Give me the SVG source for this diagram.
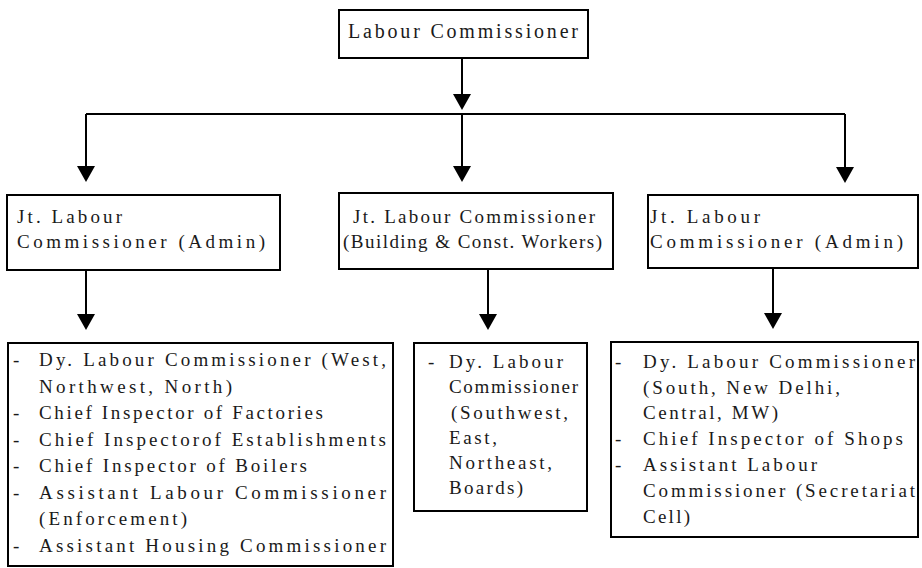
<svg xmlns="http://www.w3.org/2000/svg" width="922" height="568" viewBox="0 0 922 568">
<style>
.box{fill:#fff;stroke:#000;stroke-width:2}
.t{font-family:"Liberation Serif","Times New Roman",Times,serif;font-size:19px;fill:#1a1a1a}
.big{font-size:20px}
.conn{stroke:#000;stroke-width:2;fill:none}
</style>
<defs>
<marker id="ah" markerUnits="userSpaceOnUse" markerWidth="16" markerHeight="18" viewBox="0 0 16 18" refX="11" refY="9" orient="auto"><path d="M0,0 L16,9 L0,18 z" fill="#000"/></marker>
</defs>
<g id="connectors">
<path class="conn" d="M462,58 V105" marker-end="url(#ah)"/>
<path class="conn" d="M86,114 H845"/>
<path class="conn" d="M86,114 V177" marker-end="url(#ah)"/>
<path class="conn" d="M462,114 V177" marker-end="url(#ah)"/>
<path class="conn" d="M845,114 V178" marker-end="url(#ah)"/>
<path class="conn" d="M86,270 V325" marker-end="url(#ah)"/>
<path class="conn" d="M488,269 V325" marker-end="url(#ah)"/>
<path class="conn" d="M773,268 V324" marker-end="url(#ah)"/>
</g>
<g id="labour-commissioner">
<rect class="box" x="339" y="10" width="249" height="48"/>
<text class="t big" x="348" y="38" textLength="230" lengthAdjust="spacing">Labour Commissioner</text>
</g>
<g id="jt-admin-left">
<rect class="box" x="7" y="195" width="273" height="75"/>
<text class="t" x="17" y="223" textLength="105" lengthAdjust="spacing">Jt. Labour</text>
<text class="t" x="17" y="248" textLength="248" lengthAdjust="spacing">Commissioner (Admin)</text>
</g>
<g id="jt-building">
<rect class="box" x="339" y="193" width="274" height="76"/>
<text class="t" x="353" y="223" textLength="242" lengthAdjust="spacing">Jt. Labour Commissioner</text>
<text class="t" x="343" y="248" textLength="259" lengthAdjust="spacing">(Building &amp; Const. Workers)</text>
</g>
<g id="jt-admin-right">
<rect class="box" x="648" y="195" width="270" height="73"/>
<text class="t" x="650" y="223" textLength="110" lengthAdjust="spacing">Jt. Labour</text>
<text class="t" x="650" y="248" textLength="253" lengthAdjust="spacing">Commissioner (Admin)</text>
</g>
<g id="list-left">
<rect class="box" x="8" y="343" width="385" height="223"/>
<text class="t" x="13" y="366">-</text>
<text class="t" x="39" y="366" textLength="347" lengthAdjust="spacing">Dy. Labour Commissioner (West,</text>
<text class="t" x="39" y="392.5" textLength="193" lengthAdjust="spacing">Northwest, North)</text>
<text class="t" x="13" y="419">-</text>
<text class="t" x="39" y="419" textLength="284" lengthAdjust="spacing">Chief Inspector of Factories</text>
<text class="t" x="13" y="445.5">-</text>
<text class="t" x="39" y="445.5" textLength="347" lengthAdjust="spacing">Chief Inspectorof Establishments</text>
<text class="t" x="13" y="472">-</text>
<text class="t" x="39" y="472" textLength="268" lengthAdjust="spacing">Chief Inspector of Boilers</text>
<text class="t" x="13" y="498.5">-</text>
<text class="t" x="39" y="498.5" textLength="347" lengthAdjust="spacing">Assistant Labour Commissioner</text>
<text class="t" x="39" y="525" textLength="148" lengthAdjust="spacing">(Enforcement)</text>
<text class="t" x="13" y="551.5">-</text>
<text class="t" x="39" y="551.5" textLength="347" lengthAdjust="spacing">Assistant Housing Commissioner</text>
</g>
<g id="list-middle">
<rect class="box" x="414" y="343" width="173" height="168"/>
<text class="t" x="428" y="368">-</text>
<text class="t" x="449" y="368" textLength="114" lengthAdjust="spacing">Dy. Labour</text>
<text class="t" x="449" y="393" textLength="129" lengthAdjust="spacing">Commissioner</text>
<text class="t" x="451" y="419" textLength="117" lengthAdjust="spacing">(Southwest,</text>
<text class="t" x="449" y="444" textLength="48" lengthAdjust="spacing">East,</text>
<text class="t" x="449" y="469" textLength="103" lengthAdjust="spacing">Northeast,</text>
<text class="t" x="449" y="494" textLength="74" lengthAdjust="spacing">Boards)</text>
</g>
<g id="list-right">
<rect class="box" x="611" y="342" width="307" height="195"/>
<text class="t" x="615" y="368">-</text>
<text class="t" x="643" y="368" textLength="272" lengthAdjust="spacing">Dy. Labour Commissioner</text>
<text class="t" x="643" y="394" textLength="197" lengthAdjust="spacing">(South, New Delhi,</text>
<text class="t" x="643" y="419" textLength="135" lengthAdjust="spacing">Central, MW)</text>
<text class="t" x="615" y="445">-</text>
<text class="t" x="643" y="445" textLength="260" lengthAdjust="spacing">Chief Inspector of Shops</text>
<text class="t" x="615" y="471">-</text>
<text class="t" x="643" y="471" textLength="174" lengthAdjust="spacing">Assistant Labour</text>
<text class="t" x="643" y="497" textLength="272" lengthAdjust="spacing">Commissioner (Secretariat</text>
<text class="t" x="643" y="523" textLength="47" lengthAdjust="spacing">Cell)</text>
</g>
</svg>
